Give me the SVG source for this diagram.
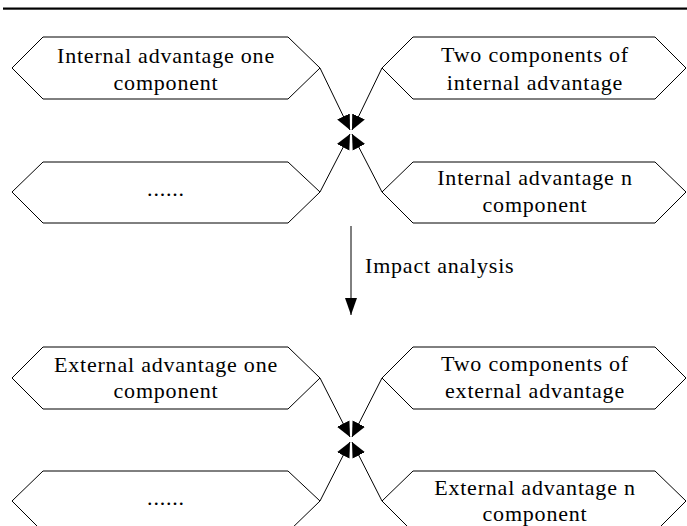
<svg xmlns="http://www.w3.org/2000/svg" width="687" height="526" viewBox="0 0 687 526">
<style>
.hex{fill:#fff;stroke:#000;stroke-width:1}
.lbl{font-family:"Liberation Serif","Times New Roman",serif;font-size:22px;fill:#000;text-anchor:middle;letter-spacing:0.8px}
.con{stroke:#000;stroke-width:1;fill:none}
</style>
<defs>
<marker id="ah" markerUnits="userSpaceOnUse" markerWidth="16" markerHeight="16" viewBox="0 0 16 16" refX="15" refY="8" orient="auto">
<path d="M0,1 L15,8 L0,15 z" fill="#000"/>
</marker>
<marker id="ahv" markerUnits="userSpaceOnUse" markerWidth="18" markerHeight="14" viewBox="0 0 18 14" refX="17" refY="7" orient="auto">
<path d="M0,1 L17,7 L0,13 z" fill="#000"/>
</marker>
</defs>
<rect x="3" y="7.5" width="684" height="2.2" fill="#000"/>
<g id="n1"><polygon class="hex" points="12,68 43,37 288,37 320,68 288,99 43,99"/><text class="lbl" x="166" y="63">Internal advantage one</text><text class="lbl" x="166" y="90">component</text></g>
<g id="n2"><polygon class="hex" points="382,68 413,37 655,37 686,68 655,99 413,99"/><text class="lbl" x="535" y="62">Two components of</text><text class="lbl" x="535" y="90">internal advantage</text></g>
<g id="n3"><polygon class="hex" points="12,192 43,162 288,162 320,192 288,223 43,223"/><text class="lbl" x="166" y="196">......</text></g>
<g id="n4"><polygon class="hex" points="382,192 413,162 655,162 686,192 655,223 413,223"/><text class="lbl" x="535" y="185">Internal advantage n</text><text class="lbl" x="535" y="212">component</text></g>
<g id="n5"><polygon class="hex" points="12,378 43,347 288,347 320,378 288,409 43,409"/><text class="lbl" x="166" y="372">External advantage one</text><text class="lbl" x="166" y="398">component</text></g>
<g id="n6"><polygon class="hex" points="382,378 413,347 655,347 686,378 655,409 413,409"/><text class="lbl" x="535" y="371">Two components of</text><text class="lbl" x="535" y="398">external advantage</text></g>
<g id="n7"><polygon class="hex" points="12,501 43,471 288,471 320,501 288,532 43,532"/><text class="lbl" x="166" y="505">......</text></g>
<g id="n8"><polygon class="hex" points="382,501 413,471 655,471 686,501 655,532 413,532"/><text class="lbl" x="535" y="495">External advantage n</text><text class="lbl" x="535" y="521">component</text></g>
<g id="connectors">
<line class="con" x1="320" y1="68" x2="350" y2="130" marker-end="url(#ah)"/>
<line class="con" x1="382" y1="68" x2="352" y2="130" marker-end="url(#ah)"/>
<line class="con" x1="320" y1="192" x2="350" y2="134" marker-end="url(#ah)"/>
<line class="con" x1="382" y1="192" x2="352" y2="134" marker-end="url(#ah)"/>
<line class="con" x1="351" y1="226" x2="351" y2="315" marker-end="url(#ahv)"/>
<text class="lbl" x="365" y="273" style="text-anchor:start">Impact analysis</text>
<line class="con" x1="320" y1="378" x2="350" y2="437" marker-end="url(#ah)"/>
<line class="con" x1="382" y1="378" x2="352" y2="437" marker-end="url(#ah)"/>
<line class="con" x1="320" y1="501" x2="350" y2="442" marker-end="url(#ah)"/>
<line class="con" x1="382" y1="501" x2="352" y2="442" marker-end="url(#ah)"/>
</g>
</svg>
